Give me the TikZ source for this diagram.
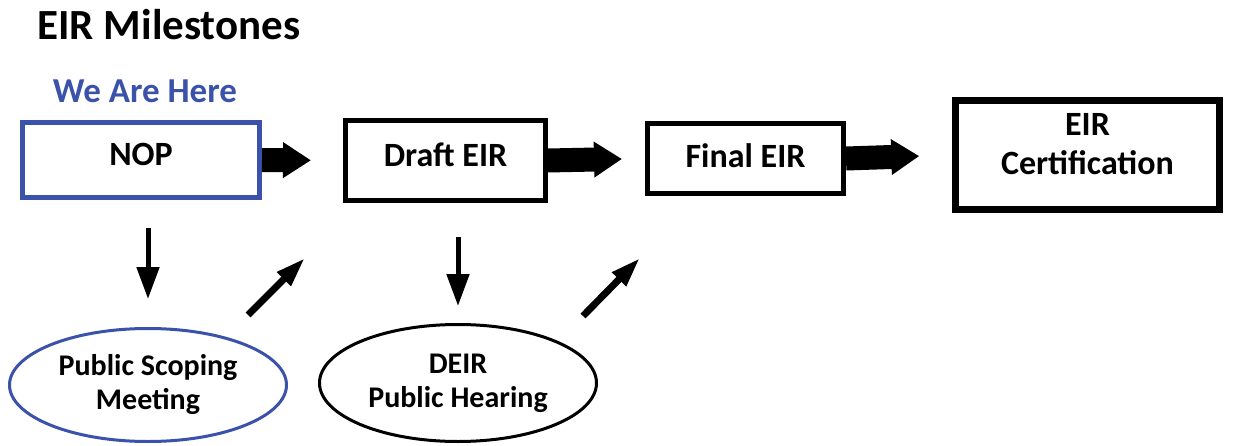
\documentclass[tikz,border=0pt]{standalone}
\usepackage{fontspec}
\setmainfont{Carlito}
\usepackage{tikz}
\usetikzlibrary{arrows.meta,shapes.geometric}
\definecolor{hereblue}{RGB}{58,82,170}

\begin{document}
\begin{tikzpicture}[x=1pt,y=-1pt,
  stage/.style={draw,line width=5pt,align=center,text depth=12pt,font=\fontsize{34}{39}\selectfont\bfseries},
  meet/.style={ellipse,draw,line width=3pt,align=center,font=\fontsize{30}{34}\selectfont\bfseries},
  block/.style={line width=24pt,-{Triangle[length=28pt,width=34pt]}},
  down/.style={line width=5pt,-{Triangle[length=32pt,width=22pt]}},
  back/.style={line width=7pt,-{Triangle[length=30pt,width=18pt]}}]
  \useasboundingbox (0,0) rectangle (1241,446);
  \draw (34,40) node[anchor=base west,font=\fontsize{43}{48}\selectfont\bfseries] (title) {EIR Milestones};
  \draw (145,103) node[anchor=base,text=hereblue,font=\fontsize{35}{40}\selectfont\bfseries] (here) {We Are Here};

  \draw (141,160) node[stage,draw=hereblue,minimum width=237pt,minimum height=75pt] (nop) {NOP};
  \draw (445.5,160.5) node[stage,minimum width=200pt,minimum height=80pt] (draft) {Draft EIR};
  \draw (745.5,158.5) node[stage,minimum width=196pt,minimum height=70pt,text depth=6pt] (final) {Final EIR};
  \draw (1087.5,155) node[stage,line width=6.5pt,minimum width=264pt,minimum height=109pt,text depth=22pt] (cert) {EIR\\Certification};

  \draw (148,385) node[meet,draw=hereblue,minimum width=277pt,minimum height=113pt] (scoping) {Public Scoping\\Meeting};
  \draw (458,383) node[meet,minimum width=277pt,minimum height=117pt] (hearing) {DEIR\\Public Hearing};

  \coordinate (s1) at (248,315);
  \coordinate (e1) at (305,258);
  \coordinate (s2) at (583,316);
  \coordinate (e2) at (640,258);

  \draw[block,shorten >=32pt] (nop.east) -- (draft.west);
  \draw[block,shorten >=23pt] (draft.east) -- (final.west);
  \draw[block,shorten >=33pt] (final.east) -- (cert.west);

  \draw[down,shorten <=28pt,shorten >=28pt] (nop.south -| scoping.north) -- (scoping.north);
  \draw[down,shorten <=34pt,shorten >=17pt] (draft.south -| hearing.north) -- (hearing.north);
  \draw[back] (s1) -- (e1);
  \draw[back] (s2) -- (e2);
\end{tikzpicture}
\end{document}
